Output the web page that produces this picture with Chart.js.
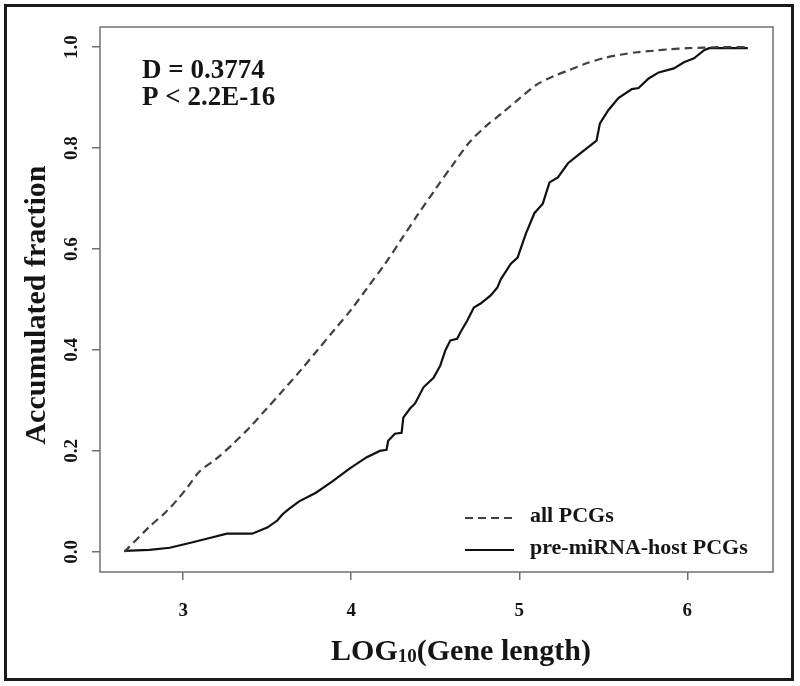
<!DOCTYPE html>
<html>
<head>
<meta charset="utf-8">
<script src="https://cdn.jsdelivr.net/npm/chart.js@4.4.1/dist/chart.umd.min.js"></script>
<style>
  html, body { margin: 0; padding: 0; background: #fff; }
  canvas { display: block; }
</style>
</head>
<body>
<canvas id="ecdfChart" width="800" height="686"></canvas>
<script>
// data
var seriesNames = ['all PCGs', 'pre-miRNA-host PCGs'];
var xTicks = [3, 4, 5, 6];
var yTicks = [0, 0.2, 0.4, 0.6, 0.8, 1.0];

var allX = [2.65, 2.80, 2.90, 2.97, 3.03, 3.10, 3.20, 3.30, 3.40, 3.50, 3.60, 3.70, 3.80, 3.90, 4.00, 4.10, 4.20, 4.30, 4.40, 4.50, 4.60, 4.70, 4.80, 4.90, 5.00, 5.10, 5.20, 5.30, 5.40, 5.50, 5.60, 5.70, 5.80, 5.90, 6.00, 6.10, 6.20, 6.36];
var allY = [0, 0.05, 0.08, 0.105, 0.13, 0.16, 0.185, 0.215, 0.248, 0.285, 0.322, 0.36, 0.40, 0.44, 0.48, 0.525, 0.57, 0.62, 0.67, 0.718, 0.765, 0.81, 0.843, 0.87, 0.898, 0.925, 0.942, 0.955, 0.968, 0.978, 0.985, 0.99, 0.993, 0.996, 0.998, 0.999, 1.0, 1.0];

var hostX = [2.65, 2.80, 2.92, 3.02, 3.14, 3.26, 3.41, 3.50, 3.56, 3.59, 3.63, 3.69, 3.79, 3.89, 3.99, 4.09, 4.17, 4.21, 4.22, 4.26, 4.30, 4.31, 4.35, 4.38, 4.43, 4.49, 4.53, 4.56, 4.59, 4.63, 4.65, 4.69, 4.73, 4.77, 4.83, 4.87, 4.89, 4.95, 4.99, 5.04, 5.09, 5.14, 5.18, 5.23, 5.29, 5.35, 5.46, 5.48, 5.53, 5.59, 5.67, 5.71, 5.77, 5.83, 5.92, 5.98, 6.04, 6.10, 6.13, 6.36];
var hostY = [0.002, 0.004, 0.008, 0.016, 0.026, 0.036, 0.036, 0.048, 0.062, 0.074, 0.085, 0.10, 0.117, 0.14, 0.165, 0.187, 0.200, 0.202, 0.22, 0.234, 0.236, 0.266, 0.284, 0.294, 0.326, 0.345, 0.369, 0.399, 0.419, 0.422, 0.435, 0.458, 0.484, 0.492, 0.508, 0.524, 0.54, 0.571, 0.583, 0.631, 0.671, 0.690, 0.732, 0.742, 0.77, 0.786, 0.815, 0.849, 0.875, 0.899, 0.917, 0.919, 0.938, 0.95, 0.958, 0.970, 0.978, 0.994, 0.998, 0.998];

var statLines = ['D = 0.3774', 'P < 2.2E-16'];

function toPoints(xs, ys) {
	return xs.map(function (x, i) { return { x: x, y: ys[i] }; });
}

var SERIF = '"Liberation Serif", "Times New Roman", serif';
var INK = '#151515';

var decorations = {
	id: 'decorations',
	beforeDraw: function (chart) {
		var ctx = chart.ctx;
		ctx.save();
		ctx.fillStyle = '#fff';
		ctx.fillRect(0, 0, chart.width, chart.height);
		ctx.restore();
	},
	afterDraw: function (chart) {
		var ctx = chart.ctx;
		var a = chart.chartArea;
		var ys = chart.scales.y;
		ctx.save();

		// outer frame
		ctx.strokeStyle = '#1a1a1a';
		ctx.lineWidth = 3;
		ctx.strokeRect(5.5, 5.5, 787, 674);

		// plot box
		ctx.strokeStyle = '#707070';
		ctx.lineWidth = 1.5;
		ctx.strokeRect(a.left, a.top, a.right - a.left, a.bottom - a.top);

		// y tick labels, rotated like R's default
		ctx.fillStyle = INK;
		ctx.font = 'bold 19px ' + SERIF;
		ctx.textAlign = 'center';
		ctx.textBaseline = 'middle';
		yTicks.forEach(function (v) {
			ctx.save();
			ctx.translate(72, ys.getPixelForValue(v));
			ctx.rotate(-Math.PI / 2);
			ctx.fillText(v.toFixed(1), 0, 0);
			ctx.restore();
		});

		// axis titles
		ctx.font = 'bold 30px ' + SERIF;
		ctx.save();
		ctx.translate(37, 305);
		ctx.rotate(-Math.PI / 2);
		ctx.fillText('Accumulated fraction', 0, 0);
		ctx.restore();

		ctx.textAlign = 'left';
		ctx.textBaseline = 'alphabetic';
		var big = 'bold 30px ' + SERIF, small = 'bold 19px ' + SERIF;
		ctx.font = big;
		var w1 = ctx.measureText('LOG').width;
		var w3 = ctx.measureText('(Gene length)').width;
		ctx.font = small;
		var w2 = ctx.measureText('10').width;
		var x0 = 461 - (w1 + w2 + w3) / 2;
		ctx.font = big;
		ctx.fillText('LOG', x0, 660);
		ctx.font = small;
		ctx.fillText('10', x0 + w1, 662);
		ctx.font = big;
		ctx.fillText('(Gene length)', x0 + w1 + w2, 660);

		// statistics
		ctx.font = 'bold 27px ' + SERIF;
		ctx.textBaseline = 'middle';
		ctx.fillText(statLines[0], 142, 71);
		ctx.fillText(statLines[1], 142, 98);

		// legend
		var ds = chart.data.datasets;
		var rows = [518, 550];
		ds.forEach(function (d, i) {
			ctx.strokeStyle = d.borderColor;
			ctx.lineWidth = 2;
			ctx.setLineDash(d.borderDash || []);
			ctx.beginPath();
			ctx.moveTo(465, rows[i]);
			ctx.lineTo(514, rows[i]);
			ctx.stroke();
			ctx.setLineDash([]);
			ctx.fillStyle = INK;
			ctx.font = 'bold 22px ' + SERIF;
			ctx.fillText(d.label, 530, rows[i] - 2);
		});
		ctx.restore();
	}
};

new Chart(document.getElementById('ecdfChart'), {
	type: 'line',
	data: {
		datasets: [
			{
				label: seriesNames[0],
				data: toPoints(allX, allY),
				borderColor: '#404040',
				borderWidth: 2.2,
				borderDash: [8, 5],
				pointRadius: 0,
				tension: 0.3,
				fill: false
			},
			{
				label: seriesNames[1],
				data: toPoints(hostX, hostY),
				borderColor: '#111',
				borderWidth: 2.2,
				pointRadius: 0,
				tension: 0,
				fill: false
			}
		]
	},
	options: {
		responsive: false,
		animation: false,
		layout: { padding: { top: 27, right: 27, left: 0, bottom: 0 } },
		plugins: {
			legend: { display: false },
			tooltip: { enabled: false }
		},
		scales: {
			x: {
				type: 'linear',
				min: 2.505,
				max: 6.51,
				afterBuildTicks: function (s) { s.ticks = xTicks.map(function (v) { return { value: v }; }); },
				afterFit: function (s) { s.height = 114; },
				grid: { drawOnChartArea: false, drawTicks: true, tickLength: 8, color: '#707070', lineWidth: 1.5 },
				border: { display: false },
				ticks: {
					color: INK,
					padding: 20,
					maxRotation: 0,
					font: { family: SERIF, size: 19, weight: 'bold' },
					callback: function (v) { return String(v); }
				}
			},
			y: {
				min: -0.04,
				max: 1.04,
				afterBuildTicks: function (s) { s.ticks = yTicks.map(function (v) { return { value: v }; }); },
				afterFit: function (s) { s.width = 100; },
				grid: { drawOnChartArea: false, drawTicks: true, tickLength: 8, color: '#707070', lineWidth: 1.5 },
				border: { display: false },
				ticks: { display: false }
			}
		}
	},
	plugins: [decorations]
});
</script>
</body>
</html>
